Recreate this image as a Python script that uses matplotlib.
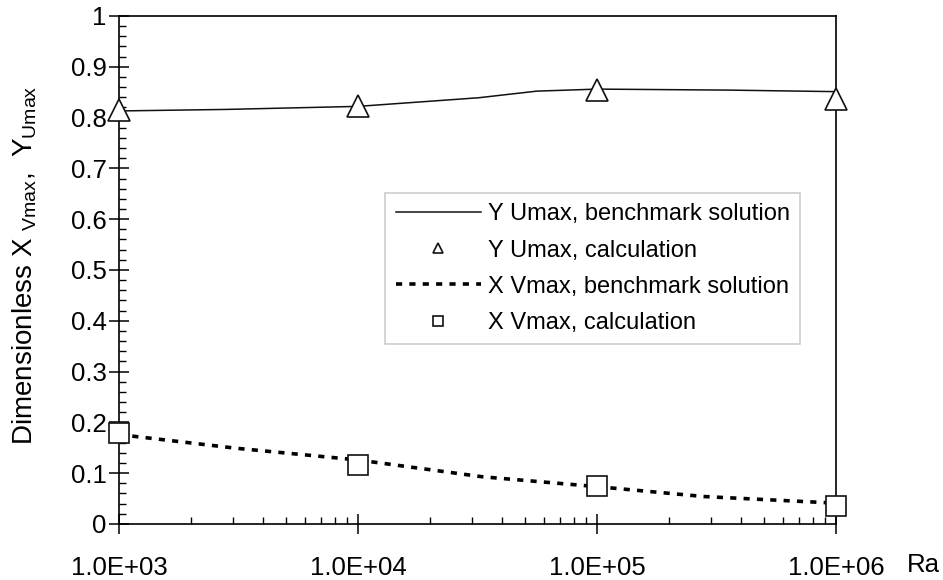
import math

import matplotlib
matplotlib.use('Agg')
import matplotlib.pyplot as plt
from matplotlib.lines import Line2D
from matplotlib.ticker import FixedLocator, LogLocator, MultipleLocator, FuncFormatter, NullFormatter

plt.rcParams['font.family'] = ['Liberation Sans', 'DejaVu Sans']
plt.rcParams['mathtext.fontset'] = 'custom'
plt.rcParams['mathtext.rm'] = 'Liberation Sans'
plt.rcParams['mathtext.it'] = 'Liberation Sans'

# benchmark curves (as drawn, with the intermediate kinks)
ra_u_bench = [1e3, 2.8e3, 1e4, 3.2e4, 5.6e4, 1e5, 3.6e5, 1e6]
y_umax_bench = [0.813, 0.816, 0.822, 0.839, 0.852, 0.856, 0.854, 0.851]
ra_v_bench = [1e3, 3.1e3, 1e4, 3.3e4, 1e5, 2.8e5, 1e6]
x_vmax_bench = [0.176, 0.149, 0.126, 0.093, 0.0735, 0.054, 0.041]

# calculation
ra_calc = [1e3, 1e4, 1e5, 1e6]
y_umax_calc = [0.814, 0.822, 0.855, 0.836]
x_vmax_calc = [0.179, 0.1165, 0.0755, 0.036]

dot_style = (0, (1.7, 2.0))

fig = plt.figure(figsize=(9.43, 5.8), dpi=100)
ax = fig.add_axes([0.1262, 0.0966, 0.7603, 0.8759])

ax.plot(ra_u_bench, y_umax_bench, color='#111111', lw=1.1, zorder=2)
ax.plot(ra_calc, y_umax_calc, ls='none', marker='^', ms=16, mfc='white',
        mec='#111111', mew=1.2, zorder=4, clip_on=False)
ax.plot(ra_v_bench, x_vmax_bench, color='black', lw=2.6, ls=dot_style,
        dash_capstyle='butt', zorder=2)
ax.plot(ra_calc, x_vmax_calc, ls='none', marker='s', ms=14, mfc='white',
        mec='#111111', mew=1.2, zorder=4, clip_on=False)

ax.set_xscale('log')
ax.set_xlim(1e3, 1e6)
ax.set_ylim(0, 1)

ax.xaxis.set_major_locator(FixedLocator([1e3, 1e4, 1e5, 1e6]))
ax.xaxis.set_minor_locator(LogLocator(base=10, subs=range(2, 10), numticks=20))
ax.xaxis.set_major_formatter(FuncFormatter(lambda v, p: '1.0E+%02d' % round(math.log10(v))))
ax.xaxis.set_minor_formatter(NullFormatter())
ax.yaxis.set_major_locator(MultipleLocator(0.1))
ax.yaxis.set_minor_locator(MultipleLocator(0.02))
ax.yaxis.set_major_formatter(FuncFormatter(lambda v, p: '%g' % round(v, 2)))

ax.tick_params(which='major', direction='inout', length=14, width=1.1,
               labelsize=18.5, color='black')
ax.tick_params(axis='x', which='major', pad=16)
ax.tick_params(axis='y', which='major', pad=2)
ax.tick_params(which='minor', direction='in', length=5, width=1.0)
for s in ax.spines.values():
    s.set_linewidth(1.2)

ax.set_ylabel('Dimensionless X $_{\\mathregular{Vmax}}$,  Y$_{\\mathregular{Umax}}$',
              fontsize=20)
ax.yaxis.set_label_coords(-0.111, 0.51)
ax.text(1.099, -0.08, 'Ra', transform=ax.transAxes, fontsize=18.5,
        ha='left', va='center')

handles = [
    Line2D([], [], color='#111111', lw=1.1),
    Line2D([], [], ls='none', marker='^', ms=7, mfc='white', mec='#111111', mew=1.2),
    Line2D([], [], color='black', lw=2.6, ls=dot_style, dash_capstyle='butt'),
    Line2D([], [], ls='none', marker='s', ms=7, mfc='white', mec='#111111', mew=1.2),
]
labels = ['Y Umax, benchmark solution', 'Y Umax, calculation',
          'X Vmax, benchmark solution', 'X Vmax, calculation']
leg = ax.legend(handles, labels, loc='upper left', bbox_to_anchor=(0.371, 0.652),
                fontsize=17, frameon=True, fancybox=False, handlelength=3.6,
                handletextpad=0.3, labelspacing=0.6, borderpad=0.45,
                borderaxespad=0)
leg.get_frame().set_edgecolor('#c0c0c0')
leg.get_frame().set_linewidth(1.2)

fig.savefig('out.png', dpi=100)
